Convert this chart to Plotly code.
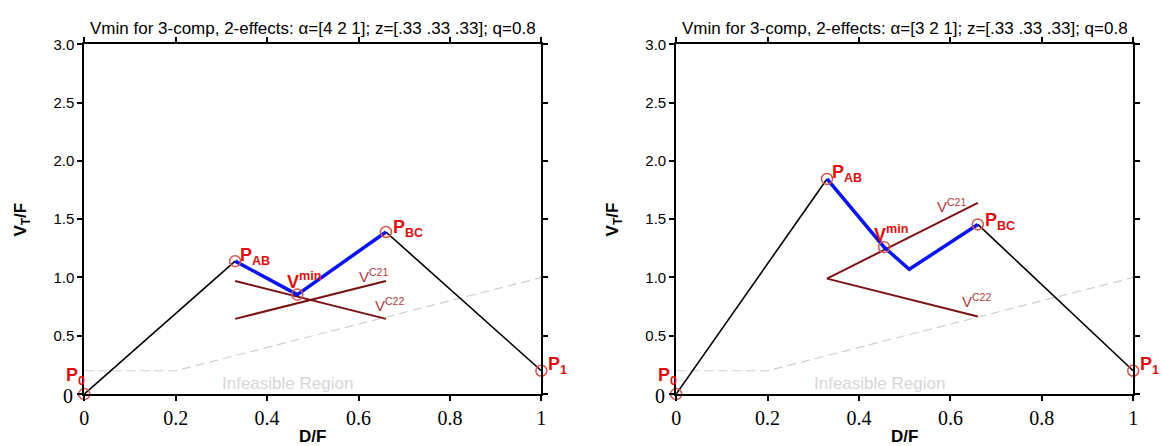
import plotly.graph_objects as go

# ---- data ----------------------------------------------------------------
titles = [
    "Vmin for 3-comp, 2-effects: \u03b1=[4 2 1]; z=[.33 .33 .33]; q=0.8",
    "Vmin for 3-comp, 2-effects: \u03b1=[3 2 1]; z=[.33 .33 .33]; q=0.8",
]

# pinch points (D/F, VT/F)
p0 = [(0.0, 0.0), (0.0, 0.0)]
pab = [(0.33, 1.14), (0.33, 1.845)]
pbc = [(0.66, 1.39), (0.66, 1.455)]
p1 = [(1.0, 0.2), (1.0, 0.2)]
vmin = [(0.466, 0.853), (0.455, 1.26)]

# minimum vapour path (blue)
blue_x = [[0.33, 0.466, 0.66], [0.33, 0.455, 0.51, 0.66]]
blue_y = [[1.14, 0.853, 1.39], [1.845, 1.26, 1.07, 1.455]]

# V^C21 and V^C22 lines
vc21_x = [[0.33, 0.66], [0.33, 0.66]]
vc21_y = [[0.645, 0.97], [0.99, 1.64]]
vc22_x = [[0.33, 0.66], [0.33, 0.66]]
vc22_y = [[0.97, 0.645], [0.99, 0.665]]

# feasibility boundary
bound_x = [0.0, 0.2, 1.0]
bound_y = [0.2, 0.2, 1.0]

x_ticks = [0, 0.2, 0.4, 0.6, 0.8, 1]
x_ticktext = ["0", "0.2", "0.4", "0.6", "0.8", "1"]
y_ticks = [0, 0.5, 1.0, 1.5, 2.0, 2.5, 3.0]
y_ticktext = ["", "0.5", "1.0", "1.5", "2.0", "2.5", "3.0"]

# ---- figure --------------------------------------------------------------
W, H = 1162, 446
x_dom = [(80 / W, 541 / W), (677 / W, 1138 / W)]
y_dom = ((446 - 393) / H, (446 - 36) / H)

RED = "#e01010"
CIRC = "#d85050"
MAROON = "#7a1212"
LBL_MAROON = "#b03a3a"
SANS = "Liberation Sans, Arial, sans-serif"
SERIF = "Liberation Serif, Times New Roman, serif"

# label positions of the V^C21 / V^C22 tags (paper pixels)
vc_tag_px = [((372, 272), (388, 302)), ((955, 201), (980, 298))]

fig = go.Figure()
annotations = []

for i in range(2):
    xa = "x" if i == 0 else "x2"
    ya = "y" if i == 0 else "y2"
    kw = dict(xaxis=xa, yaxis=ya, showlegend=False, hoverinfo="skip")

    fig.add_trace(go.Scatter(x=bound_x, y=bound_y, mode="lines",
                             line=dict(color="#cfcfcf", width=1.2, dash="9px,5px"), **kw))
    fig.add_trace(go.Scatter(x=[p0[i][0], pab[i][0]], y=[p0[i][1], pab[i][1]], mode="lines",
                             line=dict(color="black", width=1.6), **kw))
    fig.add_trace(go.Scatter(x=[pbc[i][0], p1[i][0]], y=[pbc[i][1], p1[i][1]], mode="lines",
                             line=dict(color="black", width=1.6), **kw))
    fig.add_trace(go.Scatter(x=vc21_x[i], y=vc21_y[i], mode="lines",
                             line=dict(color=MAROON, width=2), **kw))
    fig.add_trace(go.Scatter(x=vc22_x[i], y=vc22_y[i], mode="lines",
                             line=dict(color=MAROON, width=2), **kw))
    fig.add_trace(go.Scatter(x=blue_x[i], y=blue_y[i], mode="lines",
                             line=dict(color="#0a14f0", width=3.5), **kw))
    pts = [p0[i], pab[i], pbc[i], p1[i], vmin[i]]
    fig.add_trace(go.Scatter(x=[p[0] for p in pts], y=[p[1] for p in pts], mode="markers",
                             marker=dict(symbol="circle-open", size=11, color=CIRC,
                                         line=dict(width=1.5, color=CIRC)),
                             cliponaxis=False, **kw))

    def lab(pt, text, dx, dy, size=18, color=RED, bold=True, anchor="left"):
        t = f"<b>{text}</b>" if bold else text
        annotations.append(dict(x=pt[0], y=pt[1], xref=xa, yref=ya, text=t, showarrow=False,
                                xanchor=anchor, yanchor="middle", xshift=dx, yshift=dy,
                                font=dict(family=SANS, size=size, color=color)))

    lab(p0[i], "P<sub>0</sub>", 3, 18, anchor="right")
    lab(pab[i], "P<sub>AB</sub>", 3, 5)
    lab(pbc[i], "P<sub>BC</sub>", 5, 3)
    lab(p1[i], "P<sub>1</sub>", 5, 5)
    lab(vmin[i], "V<sup>min</sup>", -12, 14)

    for k, tag in enumerate(["V<sup>C21</sup>", "V<sup>C22</sup>"]):
        px, py = vc_tag_px[i][k]
        annotations.append(dict(x=px / W, y=1 - py / H, xref="paper", yref="paper",
                                text=tag, showarrow=False, xanchor="center", yanchor="middle",
                                font=dict(family=SANS, size=15, color=LBL_MAROON)))

    # region label
    annotations.append(dict(x=0.445, y=0.09, xref=xa, yref=ya, text="Infeasible Region",
                            showarrow=False, xanchor="center", yanchor="middle",
                            font=dict(family=SANS, size=17, color="#d6d6d6")))
    # y=0 tick label in serif
    annotations.append(dict(x=0, y=0, xref=xa, yref=ya, text="0", showarrow=False,
                            xanchor="right", yanchor="middle", xshift=-9, yshift=-2,
                            font=dict(family=SERIF, size=20, color="black")))
    # panel title
    cx = (x_dom[i][0] + x_dom[i][1]) / 2
    annotations.append(dict(x=cx, y=1 - 20 / H, xref="paper", yref="paper", text=titles[i],
                            showarrow=False, xanchor="center", yanchor="middle",
                            font=dict(family=SANS, size=17, color="black")))
    # axis titles
    annotations.append(dict(x=cx, y=1 - 436 / H, xref="paper", yref="paper", text="<b>D/F</b>",
                            showarrow=False, xanchor="center", yanchor="middle",
                            font=dict(family=SANS, size=17, color="black")))
    annotations.append(dict(x=(x_dom[i][0] * W - 63) / W, y=1 - 215 / H, xref="paper",
                            yref="paper", text="<b>V<sub>T</sub>/F</b>", showarrow=False,
                            xanchor="center", yanchor="middle", textangle=-90,
                            font=dict(family=SANS, size=17, color="black")))

axis_common = dict(showgrid=False, zeroline=False, showline=True, linecolor="black",
                   linewidth=2, mirror="ticks", ticks="outside", ticklen=5, tickwidth=1.5,
                   tickcolor="black")

layout_axes = {}
for i in range(2):
    sx = "" if i == 0 else "2"
    layout_axes[f"xaxis{sx}"] = dict(
        domain=list(x_dom[i]), range=[0, 1], tickvals=x_ticks, ticktext=x_ticktext,
        tickfont=dict(family=SERIF, size=20, color="black"), anchor=f"y{sx}", **axis_common)
    layout_axes[f"yaxis{sx}"] = dict(
        domain=list(y_dom), range=[0, 3], tickvals=y_ticks, ticktext=y_ticktext,
        tickfont=dict(family=SANS, size=15, color="black"), anchor=f"x{sx}", **axis_common)

fig.update_layout(
    width=W, height=H, margin=dict(l=0, r=0, t=0, b=0),
    paper_bgcolor="white", plot_bgcolor="white",
    annotations=annotations, **layout_axes,
)

fig.write_html("out.html")
